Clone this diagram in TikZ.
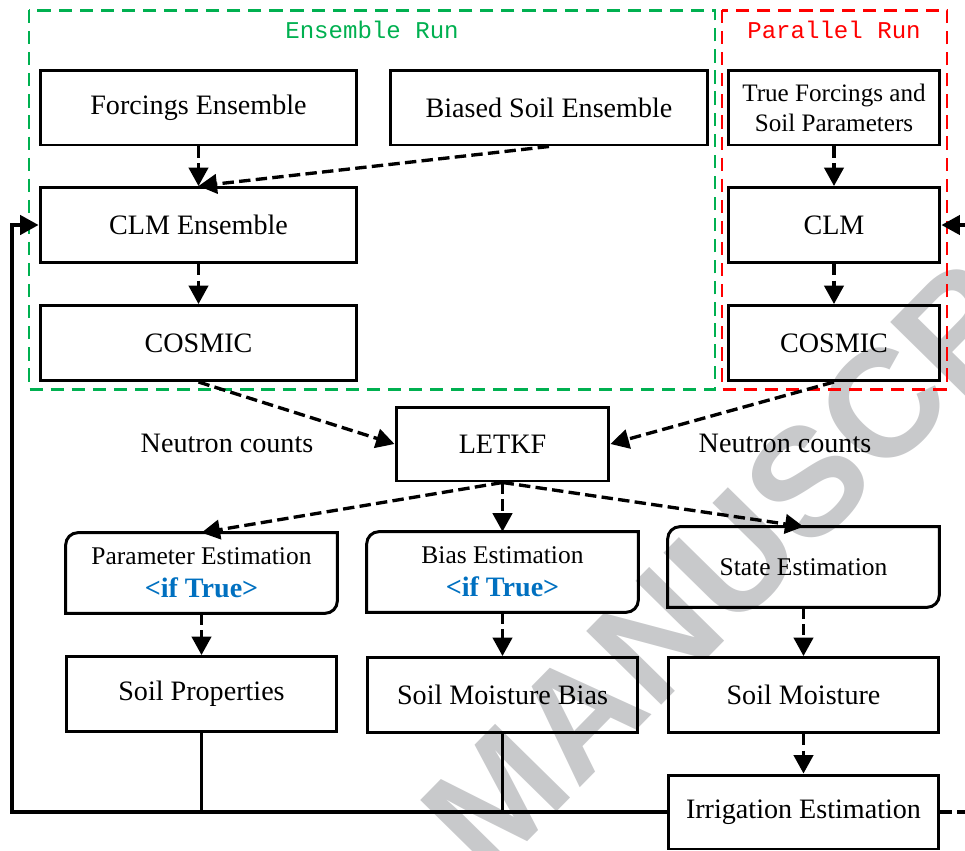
\documentclass[tikz,border=0pt]{standalone}
\usepackage{fontspec}
\setmainfont{Liberation Serif}
\setmonofont{Liberation Mono}
\newfontfamily\wmfont{Liberation Sans}
\usepackage{xcolor}
\usepackage{tikz}
\usetikzlibrary{calc}
\usetikzlibrary{arrows.meta}
\usetikzlibrary{positioning}
\definecolor{ensgreen}{RGB}{0,176,80}
\definecolor{parred}{RGB}{255,0,0}
\definecolor{truecol}{RGB}{0,112,192}
\definecolor{wmgray}{RGB}{200,201,203}
\tikzset{>={Triangle[length=10.5pt,width=11pt]}}
\tikzstyle{blk} = [rectangle, draw=black, line width=1.7pt, inner sep=2pt, align=center, font=\fontsize{16}{19}\selectfont]
\tikzstyle{wideblk} = [blk, minimum width=6.34cm, minimum height=1.5cm]
\tikzstyle{narrowblk} = [blk, minimum width=4.24cm, minimum height=1.5cm]
\tikzstyle{midblk} = [blk, minimum width=5.42cm, minimum height=1.5cm]
\tikzstyle{est} = [rectangle, draw=none, align=center, minimum width=5.42cm, minimum height=1.6cm, font=\fontsize{14.5}{18}\selectfont]
\tikzstyle{lbl} = [font=\fontsize{16}{19}\selectfont]
\tikzstyle{runlbl} = [font=\ttfamily\fontsize{13.7}{16}\selectfont]
\tikzstyle{run} = [line width=1.7pt, dash pattern=on 7.5pt off 4.5pt]
\tikzstyle{flow} = [->, line width=1.9pt, dash pattern=on 6.5pt off 3pt]
\tikzstyle{feed} = [->, line width=2pt]
\tikzstyle{drop} = [-, line width=1.3pt]

\begin{document}
\begin{tikzpicture}[x=0.02cm, y=-0.02cm]
\useasboundingbox (0,0) rectangle (965,850);
% watermark
\node [rotate=45.5, anchor=base west, text=wmgray, font=\wmfont\bfseries\fontsize{87}{87}\selectfont] (wm) at (484,886) {MANUSCRIPT};

% the two runs
\draw [run, draw=ensgreen] (29,10) rectangle (715,389);
\draw [run, draw=parred] (722,10) rectangle (947,389);
\node [runlbl, text=ensgreen] (enslbl) at (372,30) {Ensemble Run};
\node [runlbl, text=parred] (parlbl) at (834,30) {Parallel Run};

% ensemble run
\node [wideblk] (forc) at (198.5,107.5) {Forcings Ensemble};
\node [wideblk] (bias) at (549,107.5) {Biased Soil Ensemble};
\node [wideblk] (clmens) at (198.5,225) {CLM Ensemble};
\node [wideblk] (cosl) at (198.5,343) {COSMIC};

% parallel run
\node [narrowblk, font=\fontsize{14.3}{17}\selectfont] (truef) at (834,107.5) {True Forcings and\\Soil Parameters};
\node [narrowblk] (clm) at (834,225) {CLM};
\node [narrowblk] (cosr) at (834,343) {COSMIC};

% filter
\node [blk, minimum width=4.26cm, minimum height=1.48cm] (letkf) at (502.5,444) {LETKF};
\node [lbl] (ncl) at (227,443) {Neutron counts};
\node [lbl] (ncr) at (785,443) {Neutron counts};

% estimation
\node [est] (pe) at (201.5,573) {Parameter Estimation\\[1pt]{\fontsize{16}{18}\selectfont\bfseries\color{truecol}<if True>}};
\node [est] (be) at (502.5,572) {Bias Estimation\\[1pt]{\fontsize{16}{18}\selectfont\bfseries\color{truecol}<if True>}};
\node [est] (se) at (803.5,567) {State Estimation};
\foreach \n in {pe,be,se}
  \draw [line width=1.7pt] (\n.south west) -- ([yshift=-7pt]\n.north west) arc [start angle=180, end angle=90, radius=7pt] -- (\n.north east) -- ([yshift=7pt]\n.south east) arc [start angle=0, end angle=-90, radius=7pt] -- cycle;

% outputs
\node [midblk] (sp) at (201.5,694) {Soil Properties};
\node [midblk] (smb) at (502.5,695) {Soil Moisture Bias};
\node [midblk] (sm) at (803.5,695) {Soil Moisture};
\node [midblk, minimum height=1.48cm] (irr) at (803.5,812) {Irrigation Estimation};
\coordinate (fbleft) at (12,812);

% connectors
\draw [flow] (forc) -- (clmens);
\draw [flow] (bias.south) -- (clmens.north);
\draw [flow] (clmens) -- (cosl);
\draw [flow] (truef) -- (clm);
\draw [flow] (clm) -- (cosr);
\draw [flow] (cosl.south) -- (letkf.west);
\draw [flow] (cosr.south) -- (letkf.east);
\draw [flow] (letkf.south) -- (pe.north);
\draw [flow] (letkf.south) -- (be.north);
\draw [flow] (letkf.south) -- (se.north);
\draw [flow] (pe) -- (sp);
\draw [flow] (be) -- (smb);
\draw [flow] (se) -- (sm);
\draw [flow] (sm) -- (irr);

% feedback
\draw [feed] (irr.west) -- (fbleft) |- (clmens.west);
\draw [drop] (sp.south) -- (sp.south |- irr.west);
\draw [drop] (smb.south) -- (smb.south |- irr.west);
\draw [flow] (irr.east) -- ++(45,0) |- (clm.east);
\end{tikzpicture}
\end{document}
